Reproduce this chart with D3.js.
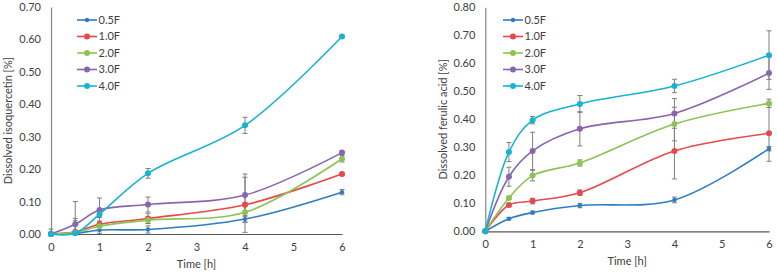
<!DOCTYPE html>
<html>
<head>
<meta charset="utf-8">
<script src="https://cdn.jsdelivr.net/npm/d3@7"></script>
<style>
  body { margin: 0; background: #fff; }
  svg text { font-family: Lato, "Open Sans", sans-serif; fill: #404040; }
</style>
</head>
<body>
<div id="chart"></div>
<script>
// Time points and series names
var times = [0, 0.5, 1, 2, 4, 6];
var seriesNames = ["0.5F", "1.0F", "2.0F", "3.0F", "4.0F"];
var seriesColors = ["#2f7cc4", "#e8474b", "#8cc453", "#8865ae", "#17b3d2"];
var xTicks = [0, 1, 2, 3, 4, 5, 6];

// Dissolved isoquercetin [%]
var isoValues = [
    [0, 0.002, 0.012, 0.014, 0.046, 0.129],
    [0, 0.007, 0.030, 0.048, 0.090, 0.185],
    [0, 0.005, 0.024, 0.043, 0.067, 0.232],
    [0, 0.030, 0.074, 0.091, 0.120, 0.251],
    [0, 0.002, 0.061, 0.187, 0.335, 0.609]
];
var isoErrors = [
    [0, 0.006, 0.010, 0.011, 0.010, 0.008],
    [0, 0.041, 0.010, 0.016, 0.085, 0.004],
    [0, 0.036, 0.012, 0.010, 0.030, 0.010],
    [0.015, 0.070, 0.037, 0.023, 0.065, 0.004],
    [0, 0.004, 0.010, 0.015, 0.025, 0.004]
];
var isoTicks = [0, 0.1, 0.2, 0.3, 0.4, 0.5, 0.6, 0.7];

// Dissolved ferulic acid [%]
var ferValues = [
    [0, 0.045, 0.067, 0.092, 0.112, 0.295],
    [0, 0.094, 0.108, 0.138, 0.287, 0.350],
    [0, 0.119, 0.199, 0.244, 0.383, 0.457],
    [0, 0.195, 0.287, 0.366, 0.421, 0.565],
    [0, 0.283, 0.397, 0.455, 0.519, 0.629]
];
var ferErrors = [
    [0, 0.004, 0.005, 0.008, 0.010, 0.008],
    [0, 0.006, 0.010, 0.010, 0.100, 0.100],
    [0, 0.005, 0.019, 0.011, 0.060, 0.015],
    [0, 0.034, 0.067, 0.061, 0.053, 0.058],
    [0, 0.034, 0.013, 0.030, 0.024, 0.087]
];
var ferTicks = [0, 0.1, 0.2, 0.3, 0.4, 0.5, 0.6, 0.7, 0.8];

var svg = d3.select("#chart").append("svg")
    .attr("width", 777)
    .attr("height", 273);

function drawPanel(opt) {
    var x = d3.scaleLinear().domain([0, 6]).range([opt.left, opt.right]);
    var y = d3.scaleLinear().domain([0, opt.yMax]).range([opt.bottom, opt.top]);
    var g = svg.append("g");

    // Y axis
    var yAxis = g.append("g")
        .attr("transform", "translate(" + opt.left + ",0)")
        .call(d3.axisLeft(y).tickValues(opt.yTicks).tickSize(0).tickPadding(10).tickFormat(d3.format(".2f")));
    yAxis.select(".domain").attr("stroke", "#868686").attr("stroke-width", 1.2);
    yAxis.selectAll("text").style("font-size", "11px").style("fill", "#404040");

    // X axis
    var xAxis = g.append("g")
        .attr("transform", "translate(0," + opt.bottom + ")")
        .call(d3.axisBottom(x).tickValues(xTicks).tickSize(0).tickPadding(9).tickFormat(d3.format("d")));
    xAxis.select(".domain").attr("stroke", "#595959").attr("stroke-width", 1.2);
    xAxis.selectAll("text").style("font-size", "11px").style("fill", "#404040");

    // Axis titles
    g.append("text")
        .attr("transform", "translate(" + opt.yLabelX + "," + ((opt.top + opt.bottom) / 2) + ") rotate(-90)")
        .attr("text-anchor", "middle")
        .attr("dy", "0.35em")
        .style("font-size", "11px")
        .text(opt.yLabel);
    g.append("text")
        .attr("x", (opt.left + opt.right) / 2)
        .attr("y", opt.xLabelY)
        .attr("text-anchor", "middle")
        .style("font-size", "11px")
        .text("Time [h]");

    var line = d3.line()
        .x(function(d) { return x(d.t); })
        .y(function(d) { return y(d.v); })
        .curve(d3.curveCatmullRom.alpha(0.5));

    var data = seriesNames.map(function(name, i) {
        return {
            name: name,
            color: seriesColors[i],
            r: i === 0 ? 2.2 : 3,
            values: times.map(function(t, j) {
                return { t: t, v: opt.values[i][j], e: opt.errors[i][j] };
            })
        };
    });

    // Error bars
    data.forEach(function(s) {
        var eb = g.append("g").attr("stroke", "#7f7f7f").attr("stroke-width", 1);
        s.values.filter(function(d) { return d.e > 0; }).forEach(function(d) {
            var lo = Math.max(0, d.v - d.e), hi = d.v + d.e;
            eb.append("line").attr("x1", x(d.t)).attr("x2", x(d.t)).attr("y1", y(lo)).attr("y2", y(hi));
            eb.append("line").attr("x1", x(d.t) - 2.5).attr("x2", x(d.t) + 2.5).attr("y1", y(hi)).attr("y2", y(hi));
            if (d.v - d.e > 0) {
                eb.append("line").attr("x1", x(d.t) - 2.5).attr("x2", x(d.t) + 2.5).attr("y1", y(lo)).attr("y2", y(lo));
            }
        });
    });

    // Lines and markers
    data.forEach(function(s) {
        g.append("path")
            .datum(s.values)
            .attr("fill", "none")
            .attr("stroke", s.color)
            .attr("stroke-width", 1.6)
            .attr("d", line);
        g.selectAll(null)
            .data(s.values)
            .enter().append("circle")
            .attr("cx", function(d) { return x(d.t); })
            .attr("cy", function(d) { return y(d.v); })
            .attr("r", s.r)
            .attr("fill", s.color);
    });

    // Legend
    var legend = g.append("g").attr("transform", "translate(" + opt.legendX + "," + opt.legendY + ")");
    data.forEach(function(s, i) {
        var item = legend.append("g").attr("transform", "translate(0," + (i * 16.5) + ")");
        item.append("line").attr("x1", 0).attr("x2", 20).attr("y1", 0).attr("y2", 0)
            .attr("stroke", s.color).attr("stroke-width", 1.6);
        item.append("circle").attr("cx", 10).attr("cy", 0).attr("r", s.r).attr("fill", s.color);
        item.append("text").attr("x", 21.5).attr("y", 0).attr("dy", "0.35em")
            .style("font-size", "11px").text(s.name);
    });
}

drawPanel({
    left: 51, right: 342, top: 7, bottom: 234, yMax: 0.7, yTicks: isoTicks,
    values: isoValues, errors: isoErrors,
    yLabel: "Dissolved isoquercetin [%]", yLabelX: 8, xLabelY: 268,
    legendX: 77, legendY: 20
});

drawPanel({
    left: 485.3, right: 769, top: 7.3, bottom: 231.3, yMax: 0.8, yTicks: ferTicks,
    values: ferValues, errors: ferErrors,
    yLabel: "Dissolved ferulic acid [%]", yLabelX: 443, xLabelY: 265,
    legendX: 503, legendY: 20
});
</script>
</body>
</html>
